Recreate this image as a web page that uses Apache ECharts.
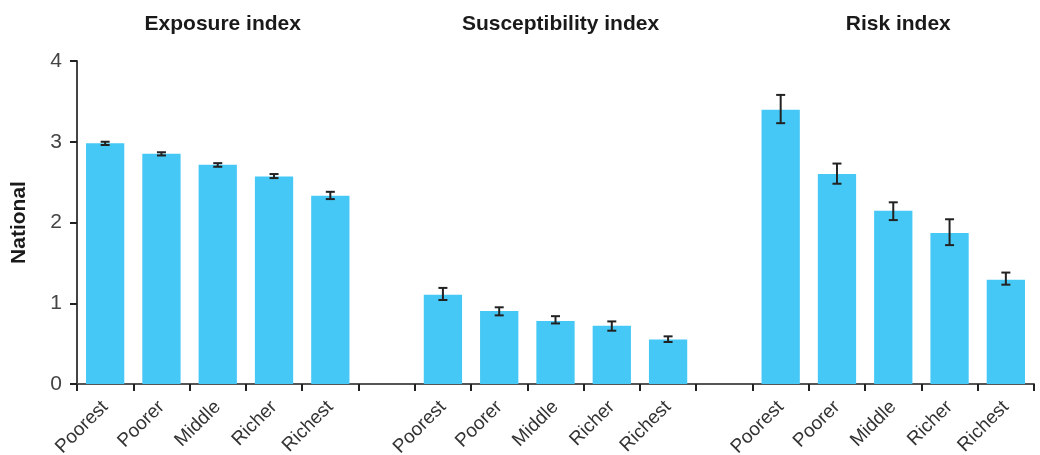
<!DOCTYPE html>
<html><head><meta charset="utf-8">
<script src="https://cdn.jsdelivr.net/npm/echarts@6/dist/echarts.min.js"></script>
<style>html,body{margin:0;padding:0;background:#fff}#c{width:1040px;height:455px}</style>
</head><body><div id="c"></div>
<script>
const panels = ['Exposure index', 'Susceptibility index', 'Risk index'];
const levels = ['Poorest', 'Poorer', 'Middle', 'Richer', 'Richest'];
const exposure = [2.98, 2.85, 2.715, 2.57, 2.33];
const exposureLow = [2.96, 2.83, 2.69, 2.55, 2.29];
const exposureHigh = [3.00, 2.87, 2.735, 2.60, 2.38];
const susceptibility = [1.105, 0.905, 0.78, 0.72, 0.55];
const susceptibilityLow = [1.04, 0.85, 0.75, 0.66, 0.52];
const susceptibilityHigh = [1.19, 0.95, 0.84, 0.775, 0.59];
const risk = [3.395, 2.60, 2.145, 1.87, 1.29];
const riskLow = [3.23, 2.48, 2.03, 1.72, 1.23];
const riskHigh = [3.58, 2.73, 2.25, 2.04, 1.38];
const yTicks = [0, 1, 2, 3, 4];

const values = [exposure, susceptibility, risk];
const lows = [exposureLow, susceptibilityLow, riskLow];
const highs = [exposureHigh, susceptibilityHigh, riskHigh];

const categories = [];
const barData = [];
const errData = [];
panels.forEach((p, pi) => {
  if (pi > 0) { categories.push(''); barData.push('-'); }
  levels.forEach((l, li) => {
    const idx = categories.length;
    categories.push(l);
    barData.push(values[pi][li]);
    errData.push([idx, lows[pi][li], highs[pi][li]]);
  });
});

const chart = echarts.init(document.getElementById('c'));
const gridLeft = 77, gridRight = 6;
const plotW = 1040 - gridLeft - gridRight;
const catW = plotW / categories.length;
const titles = panels.map((p, pi) => ({
  text: p,
  left: gridLeft + catW * (pi * 6 + 2.5),
  top: 9,
  textAlign: 'center',
  textStyle: { fontFamily: 'Liberation Sans', fontWeight: 'bold', fontSize: 21, color: '#1a1a1a' }
}));

chart.setOption({
  animation: false,
  title: titles,
  grid: { left: gridLeft, right: gridRight, top: 61, bottom: 71, containLabel: false, outerBoundsMode: 'none' },
  xAxis: {
    type: 'category',
    data: categories,
    axisLine: { lineStyle: { color: '#555', width: 2 } },
    axisTick: { show: true, length: 7, lineStyle: { color: '#222', width: 2 } },
    axisLabel: { rotate: 45, interval: 0, fontFamily: 'Liberation Sans', fontSize: 19, color: '#333', margin: 20 }
  },
  yAxis: {
    type: 'value',
    min: yTicks[0], max: yTicks[yTicks.length - 1], interval: 1,
    name: 'National',
    nameLocation: 'middle',
    nameGap: 47,
    nameTextStyle: { fontFamily: 'Liberation Sans', fontWeight: 'bold', fontSize: 21, color: '#1a1a1a' },
    splitLine: { show: false },
    axisLine: { show: true, lineStyle: { color: '#444', width: 2 } },
    axisTick: { show: true, length: 7, lineStyle: { color: '#222', width: 2 } },
    axisLabel: { fontFamily: 'Liberation Sans', fontSize: 21, color: '#444', margin: 15 }
  },
  series: [
    {
      type: 'bar',
      data: barData,
      barCategoryGap: '32%',
      itemStyle: { color: '#45C8F5' }
    },
    {
      type: 'custom',
      data: errData,
      z: 10,
      renderItem: function (params, api) {
        const x = api.value(0);
        const lo = api.coord([x, api.value(1)]);
        const hi = api.coord([x, api.value(2)]);
        const hw = 4.5;
        const style = { stroke: '#222', lineWidth: 2, fill: null };
        return {
          type: 'group',
          children: [
            { type: 'line', shape: { x1: hi[0], y1: hi[1], x2: lo[0], y2: lo[1] }, style },
            { type: 'line', shape: { x1: hi[0] - hw, y1: hi[1], x2: hi[0] + hw, y2: hi[1] }, style },
            { type: 'line', shape: { x1: lo[0] - hw, y1: lo[1], x2: lo[0] + hw, y2: lo[1] }, style }
          ]
        };
      }
    }
  ]
});
</script></body></html>
